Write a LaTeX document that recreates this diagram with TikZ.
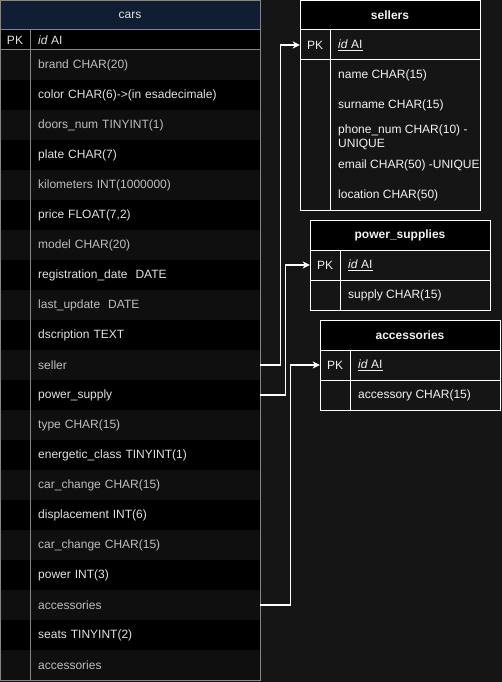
\documentclass[tikz,border=0pt]{standalone}
\usepackage{fontspec}
\setmainfont{Liberation Sans}
\usetikzlibrary{arrows.meta}
\definecolor{bg}{HTML}{151515}
\definecolor{rowlight}{HTML}{0F0F0F}
\definecolor{navy}{HTML}{0F1E32}
\definecolor{cborder}{HTML}{858585}
\definecolor{ctxtL}{HTML}{BEBEBE}
\definecolor{ctxtD}{HTML}{E2E2E2}
\definecolor{wtxt}{HTML}{F2F2F2}
\tikzset{
  crow/.style={rectangle, anchor=west, minimum width=230pt, minimum height=30pt,
    text width=214pt, inner xsep=8pt, inner ysep=0pt, align=left},
  carl/.style={crow, fill=rowlight, text=ctxtL},
  card/.style={crow, fill=black, text=ctxtD},
  thead/.style={rectangle, minimum width=180pt, minimum height=30pt, fill=black,
    text=wtxt, font=\fontsize{12}{14}\selectfont\bfseries, inner sep=0pt},
  pkc/.style={rectangle, minimum width=30pt, minimum height=30pt, inner sep=0pt, text=wtxt},
  fld/.style={rectangle, anchor=west, inner xsep=8pt, inner ysep=0pt, text=wtxt, align=left},
  tframe/.style={draw=white, line width=1pt},
  cframe/.style={draw=cborder, line width=1pt},
  conn/.style={draw=white, line width=1.4pt, -{Stealth[length=7pt,width=7pt,inset=2pt]}}
}
\begin{document}
\begin{tikzpicture}[x=1pt,y=-1pt, font=\fontsize{12}{14}\selectfont]
\useasboundingbox[fill=bg] (0,0) rectangle (502,682);

% ---------- cars ----------
\node[rectangle, fill=navy, minimum width=260pt, minimum height=30pt, inner sep=0pt, text=ctxtD] (carshead) at (130,15) {cars};
\fill[black] (0,30) rectangle (260,50);
\node[rectangle, minimum width=30pt, minimum height=20pt, inner sep=0pt, text=ctxtD] (cpk) at (15,40) {PK};
\node[rectangle, anchor=west, inner xsep=8pt, inner ysep=0pt, text=ctxtD] (cid) at (30,40) {\textit{id}\ AI};
\foreach \y in {50,110,...,650} \fill[rowlight] (0,\y) rectangle (30,\y+30);
\foreach \y in {80,140,...,620} \fill[black] (0,\y) rectangle (30,\y+30);
\node[carl] (r0) at (30,65) {brand CHAR(20)};
\node[card] (r1) at (30,95) {color CHAR(6)->(in esadecimale)};
\node[carl] (r2) at (30,125) {doors\_num TINYINT(1)};
\node[card] (r3) at (30,155) {plate CHAR(7)};
\node[carl] (r4) at (30,185) {kilometers INT(1000000)};
\node[card] (r5) at (30,215) {price FLOAT(7,2)};
\node[carl] (r6) at (30,245) {model CHAR(20)};
\node[card] (r7) at (30,275) {registration\_date\ \ DATE};
\node[carl] (r8) at (30,305) {last\_update\ \ DATE};
\node[card] (r9) at (30,335) {dscription TEXT};
\node[carl] (r10) at (30,365) {seller};
\node[card] (r11) at (30,395) {power\_supply};
\node[carl] (r12) at (30,425) {type CHAR(15)};
\node[card] (r13) at (30,455) {energetic\_class TINYINT(1)};
\node[carl] (r14) at (30,485) {car\_change CHAR(15)};
\node[card] (r15) at (30,515) {displacement INT(6)};
\node[carl] (r16) at (30,545) {car\_change CHAR(15)};
\node[card] (r17) at (30,575) {power INT(3)};
\node[carl] (r18) at (30,605) {accessories};
\node[card] (r19) at (30,635) {seats TINYINT(2)};
\node[carl] (r20) at (30,665) {accessories};
\draw[cframe] (0.5,0.5) rectangle (260,680);
\draw[cframe] (0.5,30) -- (260,30);
\draw[cframe] (0.5,50) -- (260,50);
\draw[cframe] (30,30) -- (30,680);

% ---------- sellers ----------
\node[thead] (sh) at (390,15) {sellers};
\node[pkc] (spk) at (315,45) {PK};
\node[fld] (sid) at (330,45) {\underline{\textit{id}\ AI}};
\node[fld] (sname) at (330,75) {name CHAR(15)};
\node[fld] (ssur) at (330,105) {surname CHAR(15)};
\node[fld] (sphone) at (330,137) {phone\_num CHAR(10) -\\UNIQUE};
\node[fld] (smail) at (330,165) {email CHAR(50) -UNIQUE};
\node[fld] (sloc) at (330,195) {location CHAR(50)};
\draw[tframe] (300,0.5) rectangle (480,210);
\draw[tframe] (300,30) -- (480,30);
\draw[tframe] (300,60) -- (480,60);
\draw[tframe] (330,30) -- (330,210);

% ---------- power_supplies ----------
\node[thead] (ph) at (400,235) {power\_supplies};
\node[pkc] (ppk) at (325,265) {PK};
\node[fld] (pid) at (340,265) {\underline{\textit{id}\ AI}};
\node[fld] (psup) at (340,295) {supply CHAR(15)};
\draw[tframe] (310,220) rectangle (490,310);
\draw[tframe] (310,250) -- (490,250);
\draw[tframe] (310,280) -- (490,280);
\draw[tframe] (340,250) -- (340,310);

% ---------- accessories ----------
\node[thead] (ah) at (410,335) {accessories};
\node[pkc] (apk) at (335,365) {PK};
\node[fld] (aid) at (350,365) {\underline{\textit{id}\ AI}};
\node[fld] (aacc) at (350,395) {accessory CHAR(15)};
\draw[tframe] (320,320) rectangle (500,410);
\draw[tframe] (320,350) -- (500,350);
\draw[tframe] (320,380) -- (500,380);
\draw[tframe] (350,350) -- (350,410);

% ---------- connectors ----------
\draw[conn] (r10.east) -- ++(20,0) |- (spk.west);
\draw[conn] (r11.east) -- ++(25,0) |- (ppk.west);
\draw[conn] (r18.east) -- ++(30,0) |- (apk.west);
\end{tikzpicture}
\end{document}
